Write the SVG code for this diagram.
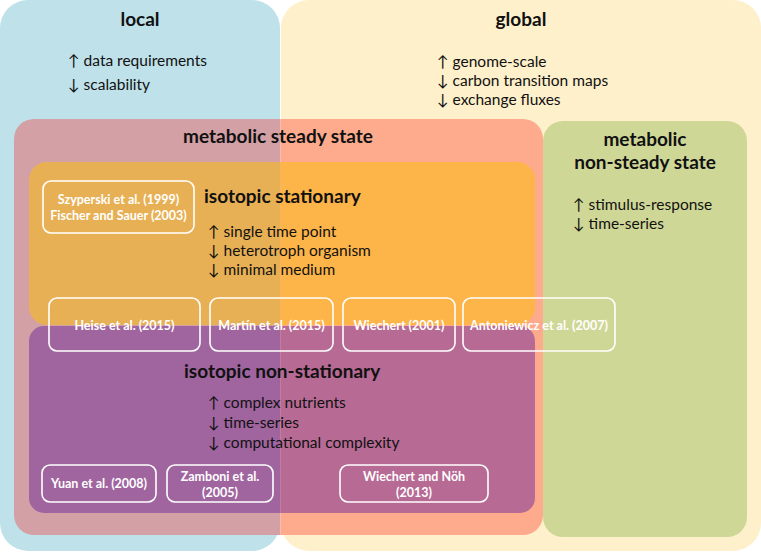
<svg xmlns="http://www.w3.org/2000/svg" width="761" height="552" viewBox="0 0 761 552">
<defs>
<clipPath id="L"><rect x="0" y="0" width="280.5" height="552"/></clipPath>
<clipPath id="R"><rect x="280.5" y="0" width="481" height="552"/></clipPath>
<style>
.t{font-family:Lato,"Liberation Sans",sans-serif;font-weight:bold;font-size:19px;fill:#111;text-anchor:middle}
.b{font-family:Lato,"Liberation Sans",sans-serif;font-size:15.5px;fill:#111}
.r{font-family:Lato,"Liberation Sans",sans-serif;font-weight:bold;font-size:12.5px;fill:#fff;text-anchor:middle}
.box{fill:none;stroke:#fff;stroke-width:1.6}
</style>
</defs>
<g id="local">
<rect x="0" y="0" width="280" height="551" rx="28" fill="#BFE1E9"/>
<text class="t" x="140" y="26">local</text>
<text class="b" x="68" y="66">↑ data requirements</text>
<text class="b" x="68" y="90">↓ scalability</text>
</g>
<g id="global">
<rect x="281" y="0" width="480" height="551" rx="28" fill="#FEF0CA"/>
<text class="t" x="521" y="26">global</text>
<text class="b" x="437" y="67">↑ genome-scale</text>
<text class="b" x="437" y="86">↓ carbon transition maps</text>
<text class="b" x="437" y="105">↓ exchange fluxes</text>
</g>
<g id="steady">
<rect x="14" y="119" width="529" height="416" rx="20" fill="#D3A0A6" clip-path="url(#L)"/>
<rect x="14" y="119" width="529" height="416" rx="20" fill="#FDAA8D" clip-path="url(#R)"/>
<text class="t" x="278" y="143">metabolic steady state</text>
</g>
<g id="nonsteady">
<rect x="543" y="121" width="204" height="416" rx="20" fill="#CFD797"/>
<text class="t" x="645" y="146">metabolic</text>
<text class="t" x="645" y="169">non-steady state</text>
<text class="b" x="573" y="210">↑ stimulus-response</text>
<text class="b" x="573" y="229">↓ time-series</text>
</g>
<g id="stationary">
<rect x="29" y="162" width="506" height="163" rx="18" fill="#E8B055" clip-path="url(#L)"/>
<rect x="29" y="162" width="506" height="163" rx="18" fill="#FDB448" clip-path="url(#R)"/>
<text class="t" x="204" y="203" style="text-anchor:start">isotopic stationary</text>
<text class="b" x="208" y="237">↑ single time point</text>
<text class="b" x="208" y="256">↓ heterotroph organism</text>
<text class="b" x="208" y="275">↓ minimal medium</text>
</g>
<g id="nonstationary">
<rect x="29" y="326" width="506" height="187" rx="15" fill="#A0659F" clip-path="url(#L)"/>
<rect x="29" y="326" width="506" height="187" rx="15" fill="#B76A94" clip-path="url(#R)"/>
<text class="t" x="184" y="378" style="text-anchor:start">isotopic non-stationary</text>
<text class="b" x="208" y="408">↑ complex nutrients</text>
<text class="b" x="208" y="428">↓ time-series</text>
<text class="b" x="208" y="448">↓ computational complexity</text>
</g>
<g id="ref-szyperski">
<rect class="box" x="43" y="181" width="151" height="52" rx="8"/>
<text class="r" x="118.5" y="204">Szyperski et al. (1999)</text>
<text class="r" x="118.5" y="220">Fischer and Sauer (2003)</text>
</g>
<g id="ref-heise">
<rect class="box" x="49" y="298" width="151" height="53" rx="8"/>
<text class="r" x="124.5" y="330">Heise et al. (2015)</text>
</g>
<g id="ref-martin">
<rect class="box" x="210" y="298" width="123" height="53" rx="8"/>
<text class="r" x="271.5" y="330">Martín et al. (2015)</text>
</g>
<g id="ref-wiechert2001">
<rect class="box" x="343" y="298" width="112" height="53" rx="8"/>
<text class="r" x="399" y="330">Wiechert (2001)</text>
</g>
<g id="ref-antoniewicz">
<rect class="box" x="463" y="298" width="152" height="53" rx="8"/>
<text class="r" x="539" y="330">Antoniewicz et al. (2007)</text>
</g>
<g id="ref-yuan">
<rect class="box" x="42" y="465" width="114" height="37" rx="8"/>
<text class="r" x="99" y="488">Yuan et al. (2008)</text>
</g>
<g id="ref-zamboni">
<rect class="box" x="167" y="465" width="106" height="37" rx="8"/>
<text class="r" x="220" y="481">Zamboni et al.</text>
<text class="r" x="220" y="497">(2005)</text>
</g>
<g id="ref-wiechert2013">
<rect class="box" x="340" y="465" width="148" height="37" rx="8"/>
<text class="r" x="414" y="481">Wiechert and Nöh</text>
<text class="r" x="414" y="497">(2013)</text>
</g>
<g id="connectors"/>
</svg>
